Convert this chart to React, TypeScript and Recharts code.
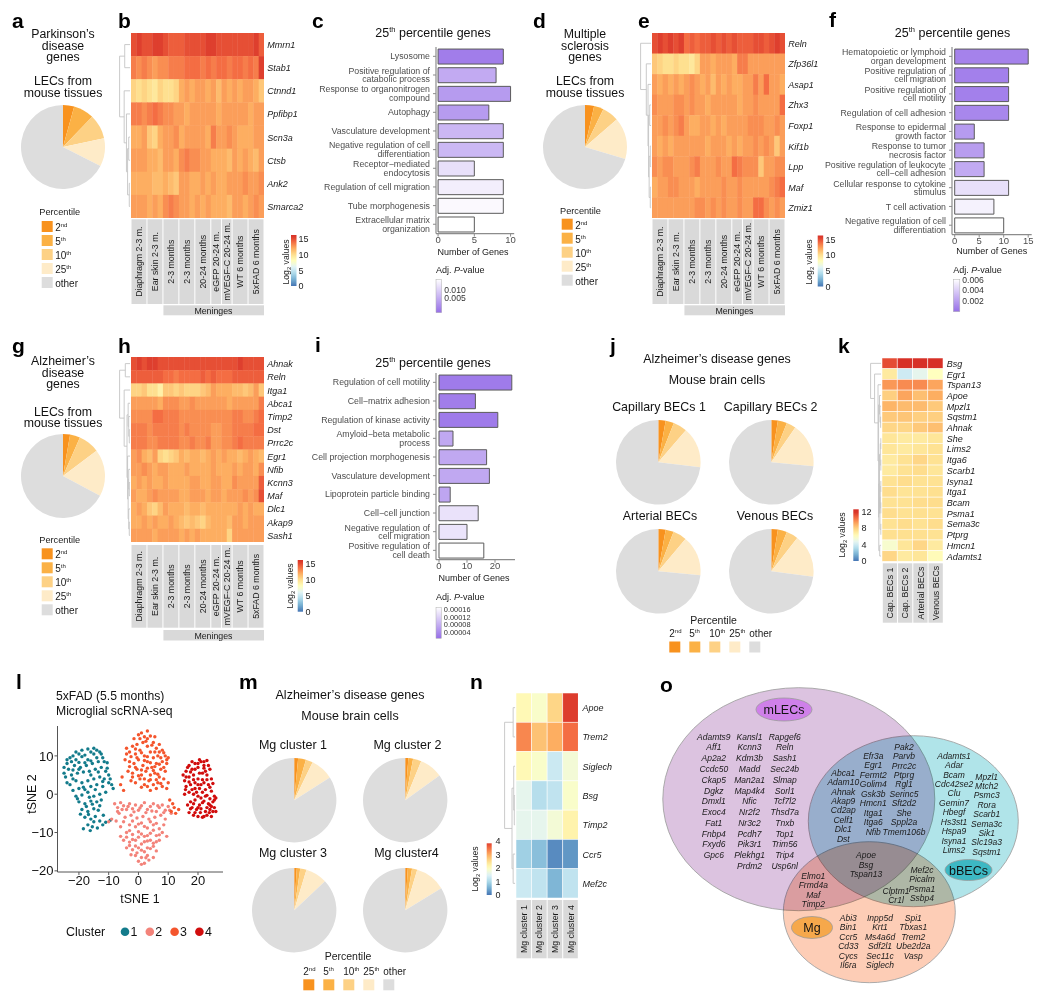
import React from 'react';
import { PieChart, Pie, Cell, BarChart, Bar, XAxis, YAxis, ScatterChart, Scatter, ReferenceLine } from 'recharts';

const FONT = "'Liberation Sans', Arial, Helvetica, sans-serif";

// ---------------- data: percentile pies ----------------
const PCT_LABELS = ['2nd', '5th', '10th', '25th', 'other'];
const PCT_COLORS = ['#f8921e', '#fbb145', '#fdd185', '#feebc8', '#dddddd'];
const PIE_A = [4.3, 7.9, 9.5, 10.8, 67.5];
const PIE_D = [3.5, 3.7, 6.4, 16.0, 70.4];
const PIE_G = [2.7, 3.9, 8.1, 18.1, 67.2];
const PIE_CAP1 = [2.8, 3.2, 5.3, 15.6, 73.1];
const PIE_CAP2 = [2.5, 3.5, 3.6, 16.9, 73.5];
const PIE_ART = [2.8, 3.1, 5.2, 15.4, 73.5];
const PIE_VEN = [2.5, 3.5, 4.5, 16.6, 72.9];
const PIE_MG1 = [1.5, 3.0, 2.7, 8.8, 84.0];
const PIE_MG2 = [1.2, 1.8, 3.2, 8.9, 84.9];
const PIE_MG3 = [1.0, 1.3, 2.4, 8.3, 87.0];
const PIE_MG4 = [1.0, 1.6, 2.0, 11.7, 83.7];

// ---------------- data: heatmaps ----------------
const GROUP_LABELS = ['Diaphragm 2-3 m.', 'Ear skin 2-3 m.', '2-3 months', '2-3 months', '20-24 months', 'eGFP 20-24 m.', 'mVEGF-C 20-24 m.', 'WT 6 months', '5xFAD 6 months'];
const GROUP_SIZES = [3, 3, 3, 3, 3, 2, 2, 3, 3];

const B_GENES = ['Mmrn1', 'Stab1', 'Ctnnd1', 'Ppfibp1', 'Scn3a', 'Ctsb', 'Ank2', 'Smarca2'];
const B_VALUES = [
  [15, 15.5, 15, 15, 15.5, 15.5, 15, 14.5, 14.5, 14.5, 15, 15, 15, 15, 15.5, 15.5, 15, 15, 15, 15, 15, 15, 15, 15.5, 14.5],
  [13.5, 13, 13.5, 13, 12.5, 13, 13, 13.5, 13.5, 13.5, 14, 14, 14, 13.5, 14, 13.5, 14, 14, 13.5, 14, 14, 13.5, 14, 13.5, 15.5],
  [10.5, 10, 10.5, 10, 9.5, 10.5, 10, 10, 10.5, 12, 12.5, 12, 12.5, 12.5, 12, 12.5, 11.5, 12.5, 12, 12.5, 12, 12.5, 12.5, 12, 11],
  [13.5, 13.5, 13, 13.5, 14, 13.5, 13, 13, 12.5, 12.5, 12, 12.5, 12.5, 12.5, 12.5, 12.5, 12, 12.5, 12.5, 12.5, 12.5, 12.5, 12, 12.5, 12.5],
  [12, 12, 12.5, 11, 10.5, 12, 12.5, 12.5, 13, 12, 12.5, 12.5, 12.5, 12.5, 12, 13.5, 12.5, 12.5, 13, 12.5, 12, 12, 12, 12.5, 12.5],
  [12.5, 12.5, 12.5, 12, 12, 11.5, 12.5, 12.5, 12, 13, 13.5, 13, 13, 12.5, 12.5, 12, 12, 12, 11.5, 12.5, 12, 12.5, 12, 11.5, 12.5],
  [12, 12, 12, 12, 11.5, 11.5, 12, 11.5, 11, 12.5, 12.5, 12, 12, 12.5, 12, 12.5, 12, 12, 12.5, 12.5, 12.5, 13, 12.5, 12.5, 13],
  [12.5, 12.5, 12.5, 12, 12.5, 12, 13, 13.5, 13, 12.5, 12.5, 12, 12.5, 12, 12.5, 12, 12, 12, 11.5, 12.5, 12.5, 12, 12.5, 13, 12.5],
];
const B_MERGES = [[0, 1, 0.55], [6, 7, 0.15], [4, 5, 0.2], [10, 9, 0.3], [3, 11, 0.4], [2, 12, 0.6], [8, 13, 1.0]];

const E_GENES = ['Reln', 'Zfp36l1', 'Asap1', 'Zhx3', 'Foxp1', 'Kif1b', 'Lpp', 'Maf', 'Zmiz1'];
const E_VALUES = [
  [15, 15.5, 15, 15.5, 15, 15.5, 14, 14.5, 14, 14.5, 14.5, 15, 14.5, 15, 14.5, 15, 14.5, 14.5, 14.5, 15, 15, 14.5, 15, 15.5, 15],
  [11, 10.5, 10, 10, 10.5, 10, 10, 9.5, 10.5, 12.5, 12.5, 12, 12.5, 12.5, 12.5, 12, 13.5, 13.5, 12.5, 12.5, 12.5, 12.5, 12.5, 12.5, 12.5],
  [12.5, 12, 12.5, 12, 12.5, 12, 12.5, 13, 12.5, 12, 12.5, 11.5, 12.5, 12, 12.5, 12, 12, 12.5, 12.5, 13.5, 12.5, 14, 12.5, 12.5, 12],
  [13, 12.5, 12.5, 12.5, 13, 13, 12.5, 13, 12.5, 12.5, 12, 12.5, 12.5, 12.5, 12.5, 12.5, 12, 12.5, 12.5, 13, 12.5, 12.5, 12.5, 12.5, 14],
  [12.5, 12.5, 13, 12.5, 13, 13.5, 12.5, 12, 12, 12.5, 12.5, 12, 12.5, 12, 12.5, 12.5, 12.5, 12.5, 13, 13, 13, 12.5, 12.5, 13, 12.5],
  [12.5, 12, 12.5, 12, 12.5, 12.5, 12.5, 12.5, 12.5, 12.5, 12, 12.5, 12.5, 12.5, 12, 12.5, 12, 12.5, 12.5, 13, 12.5, 13, 12.5, 11, 12.5],
  [13, 12.5, 13, 13, 12.5, 12.5, 12.5, 13, 13.5, 12.5, 12.5, 12.5, 13, 12.5, 12.5, 14, 13.5, 13, 13, 13, 11, 12.5, 12.5, 13, 13],
  [12, 12.5, 12.5, 13, 13, 12.5, 12.5, 12.5, 12, 12.5, 12.5, 12.5, 12.5, 13, 12.5, 12.5, 13, 12.5, 12.5, 12.5, 12.5, 12.5, 13, 13.5, 14],
  [12.5, 12.5, 12.5, 12.5, 12.5, 12.5, 12.5, 12.5, 13, 13, 12.5, 13, 12.5, 13, 12.5, 12.5, 13, 12.5, 12.5, 14, 14, 13, 12.5, 13, 12.5],
];
const E_MERGES = [[7, 8, 0.15], [5, 6, 0.15], [3, 4, 0.2], [10, 9, 0.25], [11, 12, 0.3], [2, 13, 0.35], [1, 14, 0.5], [0, 15, 1.0]];

const H_GENES = ['Ahnak', 'Reln', 'Itga1', 'Abca1', 'Timp2', 'Dst', 'Prrc2c', 'Egr1', 'Nfib', 'Kcnn3', 'Maf', 'Dlc1', 'Akap9', 'Sash1'];
const H_VALUES = [
  [15, 15.5, 15, 15.5, 15.5, 15, 15, 15, 15, 15, 15, 15, 15, 15, 15, 15, 15, 15, 15, 15, 15.5, 15, 15, 15, 15],
  [14.5, 14.5, 14.5, 14.5, 14.5, 14.5, 14, 14, 13.5, 14, 14, 14, 14, 14.5, 14, 14.5, 14, 14, 14, 14.5, 14.5, 14.5, 14.5, 14.5, 14.5],
  [10.5, 10.5, 11, 10, 10, 9, 11, 11, 10.5, 11, 10.5, 10.5, 10.5, 11, 11.5, 12.5, 12, 12, 12, 11.5, 11.5, 11, 11.5, 12.5, 11],
  [12.5, 12.5, 12.5, 12.5, 12.5, 12, 13, 13, 13, 12.5, 12.5, 13, 12.5, 12.5, 12.5, 12.5, 12.5, 12.5, 12, 12.5, 12.5, 12.5, 12.5, 12.5, 13.5],
  [13, 13, 13, 13, 14, 14, 13.5, 13.5, 13.5, 13, 13, 13, 13, 13, 13, 13, 13, 13, 13, 13.5, 13.5, 13, 13, 13.5, 14],
  [13.5, 13.5, 13.5, 13, 13.5, 13.5, 13.5, 13.5, 13.5, 13, 13.5, 13, 13, 13, 13, 12.5, 12.5, 13, 13, 13.5, 13.5, 13.5, 13.5, 14, 14],
  [13.5, 13.5, 13.5, 13, 13, 13.5, 13.5, 13.5, 13.5, 13, 13, 13.5, 13, 13, 13.5, 12.5, 12.5, 13, 13, 13.5, 14, 13.5, 13.5, 13.5, 13.5],
  [12.5, 13, 12, 11.5, 12.5, 10.5, 10, 10.5, 11, 12, 11.5, 12, 12, 11.5, 12, 12.5, 12, 12.5, 12, 12, 11.5, 12, 12.5, 12, 11.5],
  [12.5, 12.5, 13, 12.5, 12, 12.5, 12.5, 12, 12, 12, 12.5, 12, 12, 12, 12, 12.5, 12, 12, 12, 12.5, 12, 12.5, 12.5, 12, 13],
  [12, 12.5, 12, 12.5, 12, 12, 12.5, 12, 12, 12, 12, 12.5, 12.5, 12, 12, 12.5, 12.5, 12, 12, 13, 12.5, 12.5, 12.5, 12.5, 14.5],
  [12.5, 12, 12, 12.5, 13, 12.5, 12.5, 12.5, 12.5, 12, 12, 12.5, 12.5, 12.5, 12, 12.5, 12.5, 12, 12.5, 12.5, 12.5, 13, 12.5, 13, 15],
  [12, 12.5, 12, 11, 10.5, 11.5, 12.5, 12, 12, 12, 11.5, 12, 12, 11.5, 12, 12, 12, 12, 12, 12, 12.5, 12, 12.5, 12, 12],
  [12, 12, 12.5, 12, 12.5, 12, 12, 12.5, 12, 11.5, 11, 11.5, 11, 10.5, 11.5, 12, 12, 12, 11.5, 12.5, 12.5, 12, 12.5, 12.5, 12.5],
  [12.5, 12.5, 12.5, 12.5, 12, 12.5, 12.5, 12.5, 12.5, 12, 12.5, 12, 12.5, 12, 12, 12, 12, 12, 10.5, 12.5, 12.5, 12.5, 12.5, 12.5, 12.5],
];
const H_MERGES = [[0, 1, 0.5], [5, 6, 0.15], [4, 15, 0.2], [3, 16, 0.25], [9, 10, 0.15], [8, 18, 0.2], [12, 13, 0.15], [11, 20, 0.2], [19, 21, 0.25], [7, 22, 0.3], [17, 23, 0.35], [2, 24, 0.6], [14, 25, 1.0]];

const K_COLS = ['Cap. BECs 1', 'Cap. BECs 2', 'Arterial BECs', 'Venous BECs'];
const K_GENES = ['Bsg', 'Egr1', 'Tspan13', 'Apoe', 'Mpzl1', 'Sqstm1', 'Ahnak', 'She', 'Lims2', 'Itga6', 'Scarb1', 'Isyna1', 'Itga1', 'Bcam', 'Psma1', 'Sema3c', 'Ptprg', 'Hmcn1', 'Adamts1'];
const K_VALUES = [
  [11.3, 12, 12, 12], [7, 4, 4.8, 6], [9.5, 9.8, 9.8, 9.2], [8, 9.2, 8.5, 9.0], [8.8, 8.6, 8.6, 8.2],
  [8.2, 8.3, 8.0, 8.0], [7.8, 7.8, 8.2, 8.5], [7.2, 7.0, 7.0, 7.2], [7.2, 7.0, 7.2, 7.4], [7.0, 7.4, 7.8, 7.4],
  [7.0, 7.4, 7.6, 7.2], [7.4, 7.6, 7.4, 7.4], [7.6, 7.3, 7.4, 7.5], [7.4, 7.4, 7.6, 7.6], [7.6, 7.4, 7.5, 7.4],
  [7.4, 7.6, 7.4, 7.6], [7.5, 7.5, 7.5, 7.4], [5.6, 7.2, 7.8, 7.0], [7.8, 7.0, 7.2, 6.2],
];
const K_MERGES = [[7, 8, 0.1], [9, 10, 0.1], [19, 20, 0.15], [11, 12, 0.1], [13, 14, 0.1], [22, 23, 0.15], [15, 16, 0.1], [24, 25, 0.18], [21, 26, 0.22], [17, 18, 0.2], [27, 28, 0.28], [5, 6, 0.12], [4, 30, 0.18], [3, 31, 0.22], [32, 29, 0.3], [2, 33, 0.35], [1, 34, 0.65], [0, 35, 1.0]];

const N_COLS = ['Mg cluster 1', 'Mg cluster 2', 'Mg cluster 3', 'Mg cluster 4'];
const N_GENES = ['Apoe', 'Trem2', 'Siglech', 'Bsg', 'Timp2', 'Ccr5', 'Mef2c'];
const N_VALUES = [
  [2.1, 1.9, 2.6, 3.9], [3.3, 2.8, 3.0, 3.5], [2.1, 1.9, 1.3, 1.8], [1.6, 1.1, 1.2, 1.9],
  [1.6, 1.6, 1.8, 2.2], [0.9, 0.7, 0.2, 0.3], [1.3, 1.2, 0.6, 1.2],
];
const N_MERGES = [[0, 1, 0.25], [3, 4, 0.15], [2, 8, 0.2], [5, 6, 0.25], [9, 10, 0.35], [7, 11, 1.0]];

// ---------------- data: GO bar charts ----------------
const C_TERMS = ['Lysosome', 'Positive regulation of\ncatabolic process', 'Response to organonitrogen\ncompound', 'Autophagy', 'Vasculature development', 'Negative regulation of cell\ndifferentiation', 'Receptor\u2212mediated\nendocytosis', 'Regulation of cell migration', 'Tube morphogenesis', 'Extracellular matrix\norganization'];
const C_COUNTS = [9, 8, 10, 7, 9, 9, 5, 9, 9, 5];
const C_PADJ = [0.0017, 0.0055, 0.0042, 0.0042, 0.0065, 0.0066, 0.0099, 0.0111, 0.012, 0.0125];

const F_TERMS = ['Hematopoietic or lymphoid\norgan development', 'Positive regulation of\ncell migration', 'Positive regulation of\ncell motility', 'Regulation of cell adhesion', 'Response to epidermal\ngrowth factor', 'Response to tumor\nnecrosis factor', 'Positive regulation of leukocyte\ncell\u2212cell adhesion', 'Cellular response to cytokine\nstimulus', 'T cell activation', 'Negative regulation of cell\ndifferentiation'];
const F_COUNTS = [15, 11, 11, 11, 4, 6, 6, 11, 8, 10];
const F_PADJ = [0.0012, 0.0011, 0.0011, 0.0014, 0.0023, 0.0024, 0.003, 0.0054, 0.0062, 0.0068];

const I_TERMS = ['Regulation of cell motility', 'Cell\u2212matrix adhesion', 'Regulation of kinase activity', 'Amyloid\u2212beta metabolic\nprocess', 'Cell projection morphogenesis', 'Vasculature development', 'Lipoprotein particle binding', 'Cell\u2212cell junction', 'Negative regulation of\ncell migration', 'Positive regulation of\ncell death'];
const I_COUNTS = [26, 13, 21, 5, 17, 18, 4, 14, 10, 16];
const I_PADJ = [0.000026, 0.000028, 0.000026, 0.000082, 0.000082, 0.000082, 0.000078, 0.000154, 0.000156, 0.00019];

// ---------------- data: tSNE ----------------
const CLUSTER_COLORS = ['#137b8b', '#f3837a', '#f4552d', '#d10d0d'];
const TSNE_C1 = [[-24, 8], [-23, 9.5], [-22, 10], [-21, 9], [-20, 10.5], [-19, 9.8], [-18, 10.2], [-17, 9], [-16, 11], [-15, 10.5], [-14, 11.5], [-13, 11], [-12, 9.5], [-13.5, 8.5], [-15.5, 8], [-17.5, 7.5], [-19.5, 7], [-21.5, 7.5], [-23.5, 6.5], [-25, 5.5], [-24.5, 4.5], [-22.5, 5], [-20.5, 5.5], [-18.5, 5.8], [-16.5, 6], [-14.5, 6.5], [-12.5, 7], [-11, 6], [-10, 5], [-11.5, 4], [-13, 4.5], [-15, 4], [-17, 3.5], [-19, 3], [-21, 3.5], [-23, 2.5], [-22, 1], [-20, 1.5], [-18, 1.2], [-16, 2], [-14, 2.5], [-12, 2], [-10, 3], [-9, 2.5], [-8.5, 1.5], [-11, 0.5], [-13, 0], [-15, -0.5], [-17, 0.5], [-19, -0.2], [-21, -0.5], [-20, -2], [-18, -2.5], [-16, -1.8], [-14, -2], [-12.5, -1.5], [-19, -4], [-17, -4.5], [-15, -3.8], [-13.5, -4.2], [-18, -6], [-16, -6.5], [-14.5, -5.8], [-17, -8], [-15.5, -8.5], [-18.5, -9], [-13, -7], [-9.5, -6.8], [-11, -7.3], [-12, -8], [-22, 4], [-24, 3], [-20, 8.3], [-16, 8.7], [-10.5, 8.2], [-25, 7],
  [-24, 9], [-22.5, 8.5], [-21, 11], [-19, 11.5], [-17, 11.8], [-15, 12], [-12.5, 10.5], [-11.5, 8.5], [-14, 9.5], [-18, 8.2], [-20, 6.5], [-22, 6.3], [-16, 5], [-13.5, 5.8], [-10.5, 6.8], [-9.5, 4], [-12, 3.3], [-14.5, 1.2], [-16.5, -0.8], [-18.5, 1.8], [-20.5, -1.2], [-17.5, -3.2], [-15.5, -2.6], [-13, -3], [-19.5, -5.2], [-16.8, -5.3], [-15, -7.2], [-13.8, -8.8], [-16.2, -9.5], [-11.8, -5.5]];
const TSNE_C2 = [[-8, -2.5], [-7, -3.5], [-6, -2.2], [-5, -3], [-4, -4], [-3, -2.5], [-2, -3.8], [-1, -2.8], [0, -4.2], [1, -3], [2, -2.2], [3, -4], [4, -3.2], [5, -2.5], [6, -4.5], [7, -3.5], [8, -2.8], [9, -4.2], [10, -3.2], [11, -5], [-6.5, -5], [-4.5, -6], [-2.5, -5.5], [-0.5, -6.2], [1.5, -5.8], [3.5, -6.5], [5.5, -6], [7.5, -5.5], [9, -6.5], [-3, -8], [-1, -8.5], [1, -7.5], [3, -8.8], [5, -8], [7, -9], [-4, -10], [-2, -10.5], [0, -9.8], [2, -11], [4, -10.2], [6, -10.8], [8, -10], [-5, -12], [-3, -12.5], [-1, -12], [1, -13], [3, -12.2], [5, -12.8], [7, -12], [-4, -14], [-2, -14.5], [0, -14], [2, -15], [4, -14.2], [6, -14.8], [-1, -16], [1, -16.5], [3, -16], [5, -16.5], [0, -17.5], [2, -18], [3.5, -17.2], [-2.5, -15.8], [-6, -11], [-7.5, -7], [-9, -6.5], [-10, -7.2], [-6, -8.5], [8.5, -8], [9.5, -11],
  [-7, -4.5], [-5.5, -4], [-3.5, -3.2], [-1.5, -4.6], [0.5, -3.6], [2.5, -4.8], [4.5, -4.4], [6.5, -3], [8.5, -4.8], [10.5, -4.2], [-5, -7.2], [-2, -7], [0, -7.8], [2, -8.4], [4, -7.2], [6, -7.6], [-3, -9.5], [1, -10.4], [3, -10.8], [5, -9.4], [7, -10.6], [-4, -11.2], [-2, -11.8], [0, -11.2], [2, -12.4], [4, -12], [6, -12.4], [-3, -13.4], [-1, -13.5], [1, -14.6], [3, -14], [5, -13.6], [-0.5, -15.3], [2.5, -16.6], [1, -18.3]];
const TSNE_C3 = [[0, 15.5], [1, 16], [2, 15], [3, 14.5], [4, 15.2], [5, 13.5], [1.5, 13.5], [-0.5, 13], [3, 12.5], [6, 12], [7, 13], [8, 11.5], [9, 10], [10, 9.5], [-4, 12], [-3, 11], [-2, 12.5], [-1, 10.5], [0.5, 11.5], [2, 10], [4, 11], [5, 9.5], [6.5, 10], [8, 8.5], [9.5, 8], [-4.5, 9], [-3, 8.5], [-1.5, 8], [0, 9], [1.5, 7.5], [3, 8.5], [4.5, 7], [6, 8], [7.5, 6.5], [9, 6], [-3.5, 6], [-2, 5.5], [-0.5, 6.5], [1, 5], [2.5, 6], [4, 5], [5.5, 5.5], [7, 4.5], [8.5, 4], [-2.5, 3.5], [-1, 3], [0.5, 4], [2, 2.5], [3.5, 3.5], [5, 2.5], [6.5, 3], [8, 2], [4, 1], [6, 1.5], [-5.5, 4.5], [-6, 2.5], [-5, 1], [10.5, -1.5], [11.5, -2.5], [12, -3.5], [11, -4.5], [12.5, -5], [13.5, -4], [10, 3], [9.5, 1.5], [3, 16.5], [-1.5, 14.5], [5.5, 15], [7, 11],
  [0.5, 14.5], [2.5, 13.8], [4.5, 12.8], [-1, 11.8], [1, 10.8], [3, 9.8], [5.5, 11], [7.5, 9.5], [8.5, 10.8], [-2.5, 9.8], [-0.5, 9.5], [2, 8.8], [4, 8.2], [5.5, 7.2], [7, 7.8], [8.5, 7], [-3, 7.2], [-1, 7], [1, 6.3], [3, 6.8], [5, 6.2], [6.5, 5.2], [-2, 4.5], [0, 4.8], [2, 4], [4, 3.8], [6, 3.8], [7.5, 2.8], [1, 1.8], [3, 2], [-4, 10.5], [9.5, 9]];
const TSNE_C4 = [[15, 5], [16, 6], [17, 7.5], [18, 6.5], [19, 8], [20, 7], [21, 8.5], [22, 7.5], [23, 8.8], [15.5, 3.5], [17, 4.5], [18.5, 5], [20, 4], [21.5, 5.5], [23, 5], [24, 6.5], [16, 2], [17.5, 2.5], [19, 3], [20.5, 1.5], [22, 3], [23.5, 2.5], [24.5, 4], [17, 0.5], [18.5, 0], [20, -0.5], [21.5, 0.5], [23, -0.3], [24.5, 0.8], [25.5, -0.5], [17.5, -2], [19, -1.5], [20.5, -2.8], [22, -1.8], [23.5, -2.5], [25, -2], [26, -1], [18, -3.5], [19.5, -4], [21, -3.8], [22.5, -4.5], [24, -4], [25.5, -3.5], [18.5, -5.5], [20, -5.8], [21.5, -6], [23, -5.5], [24.5, -5.8], [17, -4.8], [16.5, -2.8], [19, 1.5], [22.5, 1.2], [21, 2.5], [18, 8.5], [20.5, 9], [22.5, 6], [16.5, 7], [15.5, 0], [26, -4.5], [24, -1.2],
  [16, 4.5], [17.5, 5.8], [19, 6.5], [20.5, 5.5], [22, 6.8], [23.5, 7.5], [15.8, 1.2], [17, 3.2], [18.5, 3.8], [20, 2.5], [21.5, 3.8], [23, 3.8], [24, 1.8], [25, 2.8], [18, 1.2], [19.5, 0.5], [21, -1], [22.5, -0.5], [24, -2.8], [25.5, -1.5], [18.5, -2.5], [20, -3.5], [21.5, -2.2], [23, -3.5], [24.5, -3.2], [19, -4.8], [20.8, -4.8], [22, -5.8], [23.8, -4.8], [25, -4.5], [17.5, -3.8], [20, 8], [22, 8.5]];

// ---------------- data: Venn gene sets ----------------
const VENN_MLEC_ONLY = ['Adamts9', 'Aff1', 'Ap2a2', 'Ccdc50', 'Ckap5', 'Dgkz', 'Dmxl1', 'Exoc4', 'Fat1', 'Fnbp4', 'Fxyd6', 'Gpc6', 'Kansl1', 'Kcnn3', 'Kdm3b', 'Madd', 'Man2a1', 'Map4k4', 'Nfic', 'Nr2f2', 'Nr3c2', 'Pcdh7', 'Pik3r1', 'Plekhg1', 'Prdm2', 'Rapgef6', 'Reln', 'Sash1', 'Sec24b', 'Slmap', 'Sorl1', 'Tcf7l2', 'Thsd7a', 'Tnxb', 'Top1', 'Trim56', 'Trip4', 'Usp6nl'];
const VENN_MLEC_BBEC = ['Abca1', 'Adam10', 'Ahnak', 'Akap9', 'Cd2ap', 'Celf1', 'Dlc1', 'Dst', 'Efr3a', 'Egr1', 'Fermt2', 'Golim4', 'Gsk3b', 'Hmcn1', 'Itga1', 'Itga6', 'Nfib', 'Pak2', 'Parvb', 'Prrc2c', 'Ptprg', 'Rgl1', 'Serinc5', 'Sft2d2', 'She', 'Sppl2a', 'Tmem106b'];
const VENN_BBEC_ONLY = ['Adamts1', 'Adar', 'Bcam', 'Cdc42se2', 'Clu', 'Gemin7', 'Hbegf', 'Hs3st1', 'Hspa9', 'Isyna1', 'Lims2', 'Mpzl1', 'Mtch2', 'Psmc3', 'Rora', 'Scarb1', 'Sema3c', 'Sik1', 'Slc19a3', 'Sqstm1'];
const VENN_ALL = ['Apoe', 'Bsg', 'Tspan13'];
const VENN_MLEC_MG = ['Elmo1', 'Frmd4a', 'Maf', 'Timp2'];
const VENN_BBEC_MG = ['Clptm1', 'Cr1l', 'Mef2c', 'Picalm', 'Psma1', 'Ssbp4'];
const VENN_MG_ONLY = ['Abi3', 'Bin1', 'Ccr5', 'Cd33', 'Cycs', 'Il6ra', 'Inpp5d', 'Krt1', 'Ms4a6d', 'Sdf2l1', 'Sec11c', 'Siglech', 'Spi1', 'Tbxas1', 'Trem2', 'Ube2d2a', 'Vasp'];

// ---------------- helpers ----------------
const RDYLBU = ['#4575b4', '#74add1', '#abd9e9', '#e0f3f8', '#ffffbf', '#fee090', '#fdae61', '#f46d43', '#d73027'];
function hexRgb(h: string) { return [parseInt(h.slice(1, 3), 16), parseInt(h.slice(3, 5), 16), parseInt(h.slice(5, 7), 16)]; }
function mix(a: string, b: string, f: number) {
  const A = hexRgb(a), B = hexRgb(b);
  return 'rgb(' + A.map((v, i) => Math.round(v + (B[i] - v) * f)).join(',') + ')';
}
function heatColor(v: number, vmax: number) {
  const t = Math.max(0, Math.min(1, v / vmax)) * (RDYLBU.length - 1);
  const i = Math.min(Math.floor(t), RDYLBU.length - 2);
  return mix(RDYLBU[i], RDYLBU[i + 1], t - i);
}
const PURPLE = '#966ee8';
function purple(p: number, pMin: number, pMax: number) {
  const t = Math.max(0, Math.min(1, (pMax - p) / (pMax - pMin)));
  return mix('#ffffff', PURPLE, t);
}
function dendroSegments(n: number, merges: number[][], dU: number) {
  const nodes: any[] = [];
  for (let i = 0; i < n; i++) nodes.push({ y: i + 0.5, x: -0.08 * dU });
  const segs: number[][] = [];
  merges.forEach(([a, b, h]) => {
    const A = nodes[a], B = nodes[b];
    const x = -h * dU * 0.95;
    segs.push([A.x, A.y, x, A.y]);
    segs.push([B.x, B.y, x, B.y]);
    segs.push([x, A.y, x, B.y]);
    nodes.push({ y: (A.y + B.y) / 2, x });
  });
  return segs;
}

function PiePanel({ cx, cy, r, values }: any) {
  const pad = 2;
  const data = values.map((v: number, i: number) => ({ name: PCT_LABELS[i], value: v }));
  return (
    <div style={{ position: 'absolute', left: cx - r - pad, top: cy - r - pad }}>
      <PieChart width={2 * r + 2 * pad} height={2 * r + 2 * pad} margin={{ top: 0, right: 0, bottom: 0, left: 0 }}>
        <Pie data={data} dataKey="value" cx={r + pad} cy={r + pad} innerRadius={0} outerRadius={r} startAngle={90} endAngle={-270} isAnimationActive={false} stroke="none">
          {data.map((_: any, i: number) => <Cell key={i} fill={PCT_COLORS[i]} stroke="none" />)}
        </Pie>
      </PieChart>
    </div>
  );
}

function Heatmap({ left, top, w, h, dendroW, values, merges, vmax, dividers = [], grid = false }: any) {
  const nrows = values.length, ncols = values[0].length;
  const colPx = w / ncols, rowPx = h / nrows;
  const dU = dendroW / colPx;
  const cells: any[] = [];
  values.forEach((row: number[], r: number) => row.forEach((v, c) => cells.push({ col: c + 0.5, row: r + 0.5, v })));
  const segs = dendroSegments(nrows, merges, dU);
  const ext = grid ? 0 : 0.4;
  const shape = (p: any) => (
    <rect x={p.cx - colPx / 2} y={p.cy - rowPx / 2} width={colPx + ext} height={rowPx + ext}
      fill={heatColor(p.payload.v, vmax)} stroke={grid ? '#ffffff' : 'none'} strokeOpacity={0.75} strokeWidth={grid ? 0.7 : 0} />
  );
  return (
    <div style={{ position: 'absolute', left: left - dendroW, top }}>
      <ScatterChart width={w + dendroW} height={h} margin={{ top: 0, right: 0, bottom: 0, left: 0 }}>
        <XAxis type="number" dataKey="col" domain={[-dU, ncols]} hide allowDataOverflow />
        <YAxis type="number" dataKey="row" domain={[0, nrows]} reversed hide allowDataOverflow />
        <Scatter data={cells} shape={shape} isAnimationActive={false} />
        {dividers.map((d: number) => <ReferenceLine key={'d' + d} x={d} stroke="#ffffff" strokeWidth={1.3} />)}
        {segs.map((s, i) => <ReferenceLine key={'s' + i} segment={[{ x: s[0], y: s[1] }, { x: s[2], y: s[3] }]} stroke="#c4c4c4" strokeWidth={0.9} />)}
      </ScatterChart>
    </div>
  );
}

function CatTick(props: any) {
  const { x, y, payload } = props;
  const lines = String(payload.value).split('\n');
  return (
    <text x={x} y={y} textAnchor="end" fontSize={8.8} fill="#4d4d4d" fontFamily={FONT}>
      {lines.map((l, i) => <tspan key={i} x={x} y={y + 3.1 + (i - (lines.length - 1) / 2) * 8.5}>{l}</tspan>)}
    </text>
  );
}

function BarPanel({ plotLeft, plotTop, plotW, plotH, domain, ticks, terms, counts, padj, pMin, pMax }: any) {
  const YW = 160, MT = 2, MR = 3, XH = 22;
  const data = terms.map((t: string, i: number) => ({ name: t, v: counts[i], p: padj[i] }));
  const axis = { stroke: '#8c8c8c', strokeWidth: 1.2 };
  return (
    <div style={{ position: 'absolute', left: plotLeft - YW, top: plotTop - MT }}>
      <BarChart layout="vertical" width={YW + plotW + MR} height={MT + plotH + XH} data={data}
        margin={{ top: MT, right: MR, bottom: 0, left: 0 }} barCategoryGap="11%">
        <XAxis type="number" dataKey="v" domain={domain} ticks={ticks} allowDataOverflow height={XH} interval={0}
          tickSize={3} tickMargin={0} axisLine={axis} tickLine={{ stroke: '#8c8c8c' }}
          tick={{ fontSize: 9.5, fill: '#4d4d4d', fontFamily: FONT }} />
        <YAxis type="category" dataKey="name" width={YW} interval={0} tickSize={3} tickMargin={3}
          axisLine={axis} tickLine={{ stroke: '#8c8c8c' }} tick={(p: any) => <CatTick {...p} />} />
        <Bar dataKey="v" stroke="#5a5a5a" strokeWidth={1} isAnimationActive={false}>
          {data.map((d: any, i: number) => <Cell key={i} fill={purple(d.p, pMin, pMax)} />)}
        </Bar>
      </BarChart>
    </div>
  );
}

// ---------------- overlay text helpers ----------------
function splitPct(s: string) {
  const m = s.match(/^(\d+)(\D+)$/);
  return m ? [m[1], m[2]] : [s, ''];
}
function SupText({ x, y, text, size, anchor = 'start', fill = '#1a1a1a' }: any) {
  const [b, s] = splitPct(text);
  return (
    <text x={x} y={y} fontSize={size} textAnchor={anchor} fill={fill}>
      {b}{s ? <tspan fontSize={size * 0.6} dy={-size * 0.42}>{s}</tspan> : null}
    </text>
  );
}
function Letter({ x, y, t }: any) {
  return <text x={x} y={y} fontSize={21} fontWeight="bold" fill="#000">{t}</text>;
}
function Lines({ x, ys, lines, size }: any) {
  return <>{lines.map((l: string, i: number) => <text key={i} x={x} y={ys[i]} fontSize={size} textAnchor="middle" fill="#111">{l}</text>)}</>;
}
function VertLegend({ tx, ty, sx, sy0 }: any) {
  return (
    <g>
      <text x={tx} y={ty} fontSize={9.2} fill="#1a1a1a">Percentile</text>
      {PCT_LABELS.map((l, i) => (
        <g key={l}>
          <rect x={sx} y={sy0 + i * 14} width={11} height={11} fill={PCT_COLORS[i]} />
          <SupText x={sx + 13.5} y={sy0 + i * 14 + 10} text={l} size={10} />
        </g>
      ))}
    </g>
  );
}
function HorizLegend({ cx, ty, ly, xs, sy }: any) {
  return (
    <g>
      <text x={cx} y={ty} fontSize={10.5} textAnchor="middle" fill="#1a1a1a">Percentile</text>
      {PCT_LABELS.map((l, i) => (
        <g key={l}>
          <SupText x={xs[i]} y={ly} text={l} size={10} />
          <rect x={xs[i]} y={sy} width={11} height={11} fill={PCT_COLORS[i]} />
        </g>
      ))}
    </g>
  );
}
function RowLabels({ x, top, h, genes, size = 9 }: any) {
  const rh = h / genes.length;
  return <>{genes.map((g: string, i: number) => <text key={g + i} x={x} y={top + (i + 0.5) * rh + 3.2} fontSize={size} fontStyle="italic" fill="#1a1a1a">{g}</text>)}</>;
}
function ColBoxes({ x0, colPx, sizes, labels, y0, y1 }: any) {
  let c = 0;
  return (
    <>
      {sizes.map((s: number, i: number) => {
        const xa = x0 + c * colPx + 0.5, wb = s * colPx - 1;
        c += s;
        const cx = xa + wb / 2;
        return (
          <g key={i}>
            <rect x={xa} y={y0} width={wb} height={y1 - y0} fill="#d9d9d9" />
            <text transform={`translate(${cx + 3.1},${(y0 + y1) / 2}) rotate(-90)`} textAnchor="middle" fontSize={8.8} fill="#1a1a1a">{labels[i]}</text>
          </g>
        );
      })}
    </>
  );
}
function Colorbar({ id, x, y, w, h, vtop, vmax, labels, lx, tx, tcy }: any) {
  const stops = [];
  for (let i = 0; i <= 16; i++) { const v = vtop * (1 - i / 16); stops.push({ o: i / 16, c: heatColor(v, vmax) }); }
  return (
    <g>
      <defs>
        <linearGradient id={id} x1="0" y1="0" x2="0" y2="1">
          {stops.map((s, i) => <stop key={i} offset={s.o} stopColor={s.c} />)}
        </linearGradient>
      </defs>
      <rect x={x} y={y} width={w} height={h} fill={`url(#${id})`} />
      {labels.map((v: number) => <text key={v} x={lx} y={y + h - (v / vtop) * h + 3.2} fontSize={9} fill="#222">{v}</text>)}
      <text transform={`translate(${tx},${tcy}) rotate(-90)`} textAnchor="middle" fontSize={8.6} fill="#222">Log<tspan fontSize={6} dy={2}>2</tspan><tspan dy={-2}> values</tspan></text>
    </g>
  );
}
function PLegend({ id, x, ty, ry, rw, rh, labels, size = 8.6 }: any) {
  return (
    <g>
      <defs>
        <linearGradient id={id} x1="0" y1="0" x2="0" y2="1">
          <stop offset="0" stopColor="#ffffff" />
          <stop offset="1" stopColor={PURPLE} />
        </linearGradient>
      </defs>
      <text x={x} y={ty} fontSize={9} fill="#1a1a1a">Adj. <tspan fontStyle="italic">P</tspan>-value</text>
      <rect x={x} y={ry} width={rw} height={rh} fill={`url(#${id})`} stroke="#b0b0b0" strokeWidth={0.5} />
      {labels.map((l: any) => <text key={l[0]} x={x + rw + 2.5} y={l[1]} fontSize={size} fill="#333">{l[0]}</text>)}
    </g>
  );
}
function Title25({ cx, y }: any) {
  return (
    <text x={cx} y={y} fontSize={12.5} textAnchor="middle" fill="#111">25<tspan fontSize={7.5} dy={-5}>th</tspan><tspan dy={5}> percentile genes</tspan></text>
  );
}

// ---------------- layout constants (not data) ----------------
const VENN_SHAPES = [
  { x: 798.8, y: 799.2, rx: 136, ry: 111.5, fill: '#dcc3e0' },
  { x: 913.3, y: 821.2, rx: 105, ry: 85.5, fill: '#b0e4e9' },
  { x: 869.3, y: 912.2, rx: 86, ry: 70.5, fill: '#fdcdb6' },
];
const VENN_PILLS = [
  { x: 784, y: 709.5, rx: 28, ry: 11.5, fill: '#cf80e9' },
  { x: 968.5, y: 870, rx: 23.5, ry: 10.5, fill: '#3db8c3' },
  { x: 812, y: 927.5, rx: 20.5, ry: 11, fill: '#f6a84b' },
];
const VENN_COLUMNS = [
  { set: VENN_MLEC_ONLY, from: 0, n: 12, x: 713.8, y0: 739.7, step: 10.76 },
  { set: VENN_MLEC_ONLY, from: 12, n: 13, x: 749.5, y0: 739.7, step: 10.76 },
  { set: VENN_MLEC_ONLY, from: 25, n: 13, x: 784.7, y0: 739.7, step: 10.76 },
  { set: VENN_MLEC_BBEC, from: 0, n: 8, x: 843.3, y0: 775.7, step: 9.43 },
  { set: VENN_MLEC_BBEC, from: 8, n: 9, x: 873.3, y0: 759, step: 9.46 },
  { set: VENN_MLEC_BBEC, from: 17, n: 10, x: 904, y0: 749.7, step: 9.44 },
  { set: VENN_BBEC_ONLY, from: 0, n: 11, x: 954, y0: 758.7, step: 9.43 },
  { set: VENN_BBEC_ONLY, from: 11, n: 9, x: 986.7, y0: 779.7, step: 9.38 },
  { set: VENN_ALL, from: 0, n: 3, x: 866, y0: 858, step: 9.5 },
  { set: VENN_MLEC_MG, from: 0, n: 4, x: 813.3, y0: 878.7, step: 9.43 },
  { set: VENN_BBEC_MG, from: 0, n: 2, x: 896, y0: 893.7, step: 9.3 },
  { set: VENN_BBEC_MG, from: 2, n: 4, x: 922, y0: 873, step: 9.43 },
  { set: VENN_MG_ONLY, from: 0, n: 6, x: 848.3, y0: 920.7, step: 9.47 },
  { set: VENN_MG_ONLY, from: 6, n: 6, x: 880, y0: 920.7, step: 9.47 },
  { set: VENN_MG_ONLY, from: 12, n: 5, x: 913.3, y0: 920.7, step: 9.47 },
];

const fmtMinus = (v: number) => String(v).replace('-', '\u2212');

function TsnePlot() {
  const sets = [TSNE_C1, TSNE_C2, TSNE_C3, TSNE_C4];
  const axis = { stroke: '#555', strokeWidth: 1 };
  return (
    <div style={{ position: 'absolute', left: 0, top: 716 }}>
      <ScatterChart width={225} height={180} margin={{ top: 10, right: 2, bottom: 0, left: 0 }}>
        <XAxis type="number" dataKey="x" domain={[-27.2, 28.4]} ticks={[-20, -10, 0, 10, 20]} allowDataOverflow interval={0}
          height={24} tickSize={3} tickMargin={1} axisLine={axis} tickLine={{ stroke: '#555' }}
          tick={{ fontSize: 13, fill: '#111', fontFamily: FONT }} tickFormatter={fmtMinus} />
        <YAxis type="number" dataKey="y" domain={[-20.3, 17.8]} ticks={[-20, -10, 0, 10]} allowDataOverflow interval={0}
          width={57.5} tickSize={3} tickMargin={1} axisLine={axis} tickLine={{ stroke: '#555' }}
          tick={{ fontSize: 13, fill: '#111', fontFamily: FONT }} tickFormatter={fmtMinus} />
        {sets.map((s, k) => (
          <Scatter key={k} data={s.map(p => ({ x: p[0], y: p[1] }))} isAnimationActive={false}
            shape={(p: any) => <circle cx={p.cx} cy={p.cy} r={1.7} fill={CLUSTER_COLORS[k]} />} />
        ))}
      </ScatterChart>
    </div>
  );
}

function VennPlot() {
  const shapeE = (p: any) => (
    <ellipse cx={p.cx} cy={p.cy} rx={p.payload.rx} ry={p.payload.ry} fill={p.payload.fill}
      stroke="#a3a3a3" strokeWidth={0.9} style={{ mixBlendMode: 'multiply' }} />
  );
  const shapeP = (p: any) => (
    <ellipse cx={p.cx} cy={p.cy} rx={p.payload.rx} ry={p.payload.ry} fill={p.payload.fill} stroke="#9a9a9a" strokeWidth={0.8} />
  );
  return (
    <div style={{ position: 'absolute', left: 655, top: 678 }}>
      <ScatterChart width={380} height={320} margin={{ top: 0, right: 0, bottom: 0, left: 0 }}>
        <XAxis type="number" dataKey="x" domain={[655, 1035]} hide allowDataOverflow />
        <YAxis type="number" dataKey="y" domain={[678, 998]} reversed hide allowDataOverflow />
        <Scatter data={VENN_SHAPES} shape={shapeE} isAnimationActive={false} />
        <Scatter data={VENN_PILLS} shape={shapeP} isAnimationActive={false} />
      </ScatterChart>
    </div>
  );
}

export default function App() {
  const colB = 133 / 25;
  return (
    <div style={{ position: 'absolute', left: 0, top: 0, width: 1050, height: 1004, background: '#fff', fontFamily: FONT }}>
      {/* pies */}
      <PiePanel cx={62.5} cy={146.8} r={42} values={PIE_A} />
      <PiePanel cx={584.8} cy={147.3} r={42} values={PIE_D} />
      <PiePanel cx={62.8} cy={475.8} r={42} values={PIE_G} />
      <PiePanel cx={658.5} cy={462.5} r={42.3} values={PIE_CAP1} />
      <PiePanel cx={771} cy={462.5} r={42.3} values={PIE_CAP2} />
      <PiePanel cx={658.5} cy={571.5} r={42.3} values={PIE_ART} />
      <PiePanel cx={771} cy={571.5} r={42.3} values={PIE_VEN} />
      <PiePanel cx={293.8} cy={800} r={42.2} values={PIE_MG1} />
      <PiePanel cx={405.5} cy={800} r={42.2} values={PIE_MG2} />
      <PiePanel cx={293.8} cy={909.8} r={42.2} values={PIE_MG3} />
      <PiePanel cx={405.5} cy={909.8} r={42.2} values={PIE_MG4} />

      {/* heatmaps */}
      <Heatmap left={131} top={33.3} w={133} h={185} dendroW={12} values={B_VALUES} merges={B_MERGES} vmax={16} dividers={[6, 9, 15, 19]} />
      <Heatmap left={652} top={33.3} w={133} h={185} dendroW={12} values={E_VALUES} merges={E_MERGES} vmax={16} dividers={[6, 9, 15, 19]} />
      <Heatmap left={131} top={357.3} w={133} h={185} dendroW={12} values={H_VALUES} merges={H_MERGES} vmax={16} dividers={[6, 9, 15, 19]} />
      <Heatmap left={882.3} top={358.3} w={61} h={203.4} dendroW={12} values={K_VALUES} merges={K_MERGES} vmax={12} grid />
      <Heatmap left={516} top={693.3} w={62.3} h={205} dendroW={12} values={N_VALUES} merges={N_MERGES} vmax={4} grid />

      {/* GO bars */}
      <BarPanel plotLeft={436} plotTop={46.7} plotW={78.2} plotH={186.6} domain={[-0.29, 10.5]} ticks={[0, 5, 10]}
        terms={C_TERMS} counts={C_COUNTS} padj={C_PADJ} pMin={0.0005} pMax={0.0125} />
      <BarPanel plotLeft={952} plotTop={46.7} plotW={79.7} plotH={187.6} domain={[-0.55, 15.71]} ticks={[0, 5, 10, 15]}
        terms={F_TERMS} counts={F_COUNTS} padj={F_PADJ} pMin={0.0003} pMax={0.0068} />
      <BarPanel plotLeft={436} plotTop={373.3} plotW={79} plotH={186.7} domain={[-1.07, 27.14]} ticks={[0, 10, 20]}
        terms={I_TERMS} counts={I_COUNTS} padj={I_PADJ} pMin={0.00001} pMax={0.00019} />

      <TsnePlot />
      <VennPlot />

      {/* overlay text & decorations */}
      <svg width={1050} height={1004} style={{ position: 'absolute', left: 0, top: 0, pointerEvents: 'none', fontFamily: FONT }}>
        <Letter x={12} y={28} t="a" />
        <Letter x={118} y={28} t="b" />
        <Letter x={312} y={28} t="c" />
        <Letter x={533} y={28} t="d" />
        <Letter x={638} y={28} t="e" />
        <Letter x={829} y={27} t="f" />
        <Letter x={12} y={353} t="g" />
        <Letter x={118} y={353} t="h" />
        <Letter x={315} y={352} t="i" />
        <Letter x={610} y={353} t="j" />
        <Letter x={838} y={353} t="k" />
        <Letter x={16} y={689} t="l" />
        <Letter x={239} y={689} t="m" />
        <Letter x={470} y={689} t="n" />
        <Letter x={660} y={692} t="o" />

        {/* a, d, g titles */}
        <Lines x={63} ys={[38, 49.5, 61, 85, 96.5]} lines={["Parkinson\u2019s", 'disease', 'genes', 'LECs from', 'mouse tissues']} size={12.3} />
        <Lines x={585} ys={[38, 49.5, 61, 85, 96.5]} lines={['Multiple', 'sclerosis', 'genes', 'LECs from', 'mouse tissues']} size={12.3} />
        <Lines x={63} ys={[365, 376.7, 388.2, 416, 427.3]} lines={["Alzheimer\u2019s", 'disease', 'genes', 'LECs from', 'mouse tissues']} size={12.3} />
        <VertLegend tx={39.3} ty={215} sx={41.7} sy0={221} />
        <VertLegend tx={560} ty={214} sx={561.7} sy0={218.7} />
        <VertLegend tx={39.3} ty={543} sx={41.7} sy0={548.3} />

        {/* heatmap labels */}
        <RowLabels x={267.3} top={33.3} h={185} genes={B_GENES} />
        <RowLabels x={788.3} top={33.3} h={185} genes={E_GENES} />
        <RowLabels x={267.3} top={357.3} h={185} genes={H_GENES} />
        <RowLabels x={946.7} top={358.3} h={203.4} genes={K_GENES} />
        <RowLabels x={582.5} top={693.3} h={205} genes={N_GENES} />

        <ColBoxes x0={131} colPx={colB} sizes={GROUP_SIZES} labels={GROUP_LABELS} y0={219.3} y1={304} />
        <rect x={131 + 6 * colB + 0.5} y={305.3} width={19 * colB - 0.5} height={10} fill="#d9d9d9" />
        <text x={131 + 15.5 * colB} y={313.6} fontSize={8.8} textAnchor="middle" fill="#1a1a1a">Meninges</text>
        <ColBoxes x0={652} colPx={colB} sizes={GROUP_SIZES} labels={GROUP_LABELS} y0={219.3} y1={304} />
        <rect x={652 + 6 * colB + 0.5} y={305.3} width={19 * colB - 0.5} height={10} fill="#d9d9d9" />
        <text x={652 + 15.5 * colB} y={313.6} fontSize={8.8} textAnchor="middle" fill="#1a1a1a">Meninges</text>
        <ColBoxes x0={131} colPx={colB} sizes={GROUP_SIZES} labels={GROUP_LABELS} y0={545} y1={627.7} />
        <rect x={131 + 6 * colB + 0.5} y={630} width={19 * colB - 0.5} height={10.5} fill="#d9d9d9" />
        <text x={131 + 15.5 * colB} y={638.5} fontSize={8.8} textAnchor="middle" fill="#1a1a1a">Meninges</text>
        <ColBoxes x0={882.3} colPx={61 / 4} sizes={[1, 1, 1, 1]} labels={K_COLS} y0={563.3} y1={622.7} />
        <ColBoxes x0={516} colPx={62.3 / 4} sizes={[1, 1, 1, 1]} labels={N_COLS} y0={900} y1={958.3} />

        <Colorbar id="cbB" x={291} y={235} w={5.5} h={51} vtop={16.3} vmax={16} labels={[15, 10, 5, 0]} lx={298.5} tx={289.3} tcy={262} />
        <Colorbar id="cbE" x={817.7} y={235.5} w={5.5} h={51} vtop={16.3} vmax={16} labels={[15, 10, 5, 0]} lx={825.5} tx={811.5} tcy={262} />
        <Colorbar id="cbH" x={297.7} y={560} w={5.3} h={51.7} vtop={16.3} vmax={16} labels={[15, 10, 5, 0]} lx={305.5} tx={292.5} tcy={586} />
        <Colorbar id="cbK" x={853.3} y={509.3} w={5.4} h={51.7} vtop={12.6} vmax={12} labels={[12, 8, 4, 0]} lx={861.5} tx={845} tcy={535} />
        <Colorbar id="cbN" x={486.7} y={843.3} w={5} h={51.7} vtop={3.85} vmax={4} labels={[4, 3, 2, 1, 0]} lx={495.5} tx={478} tcy={869} />

        {/* GO titles & legends */}
        <Title25 cx={433} y={36.5} />
        <Title25 cx={952.5} y={36.5} />
        <Title25 cx={433} y={366.5} />
        <text x={473} y={255} fontSize={9} textAnchor="middle" fill="#1a1a1a">Number of Genes</text>
        <text x={991.7} y={253.5} fontSize={9} textAnchor="middle" fill="#1a1a1a">Number of Genes</text>
        <text x={474} y={580.7} fontSize={9} textAnchor="middle" fill="#1a1a1a">Number of Genes</text>
        <PLegend id="plC" x={436} ty={273} ry={279.3} rw={5.7} rh={33.4} labels={[['0.010', 292.5], ['0.005', 301]]} />
        <PLegend id="plF" x={953.3} ty={272.5} ry={279.3} rw={6.5} rh={32.4} labels={[['0.006', 283.3], ['0.004', 293.3], ['0.002', 303.7]]} />
        <PLegend id="plI" x={436} ty={600} ry={607.3} rw={5.3} rh={31} size={7.4} labels={[['0.00016', 612.3], ['0.00012', 619.7], ['0.00008', 627], ['0.00004', 634.7]]} />

        {/* j */}
        <text x={717} y={363.3} fontSize={12.4} textAnchor="middle" fill="#111">Alzheimer{'\u2019'}s disease genes</text>
        <text x={717} y={384} fontSize={12.4} textAnchor="middle" fill="#111">Mouse brain cells</text>
        <text x={659} y={410.7} fontSize={12.4} textAnchor="middle" fill="#111">Capillary BECs 1</text>
        <text x={770.7} y={410.7} fontSize={12.4} textAnchor="middle" fill="#111">Capillary BECs 2</text>
        <text x={660} y={520} fontSize={12.4} textAnchor="middle" fill="#111">Arterial BECs</text>
        <text x={775} y={520} fontSize={12.4} textAnchor="middle" fill="#111">Venous BECs</text>
        <HorizLegend cx={713.5} ty={624} ly={637.3} xs={[669.3, 689.3, 709.3, 729.3, 749.3]} sy={641.5} />

        {/* l */}
        <text x={56} y={700} fontSize={12.2} fill="#111">5xFAD (5.5 months)</text>
        <text x={56} y={714.5} fontSize={12.2} fill="#111">Microglial scRNA-seq</text>
        <text x={140} y={903.3} fontSize={12.4} textAnchor="middle" fill="#111">tSNE 1</text>
        <text transform="translate(36,794) rotate(-90)" fontSize={12.4} textAnchor="middle" fill="#111">tSNE 2</text>
        <text x={66} y={936} fontSize={12.4} fill="#111">Cluster</text>
        {CLUSTER_COLORS.map((c, i) => (
          <g key={c}>
            <circle cx={125 + i * 24.8} cy={931.7} r={4.3} fill={c} />
            <text x={130.5 + i * 24.8} y={936} fontSize={12.4} fill="#111">{i + 1}</text>
          </g>
        ))}

        {/* m */}
        <text x={350} y={699.3} fontSize={12.5} textAnchor="middle" fill="#111">Alzheimer{'\u2019'}s disease genes</text>
        <text x={350} y={720} fontSize={12.5} textAnchor="middle" fill="#111">Mouse brain cells</text>
        <text x={293} y={749} fontSize={12.5} textAnchor="middle" fill="#111">Mg cluster 1</text>
        <text x={407.5} y={749} fontSize={12.5} textAnchor="middle" fill="#111">Mg cluster 2</text>
        <text x={293} y={857.3} fontSize={12.5} textAnchor="middle" fill="#111">Mg cluster 3</text>
        <text x={406.5} y={857.3} fontSize={12.5} textAnchor="middle" fill="#111">Mg cluster4</text>
        <HorizLegend cx={348} ty={960} ly={975} xs={[303.3, 323.3, 343.3, 363.3, 383.3]} sy={979.3} />

        {/* o: Venn labels */}
        <text x={784} y={714} fontSize={12.5} textAnchor="middle" fill="#111">mLECs</text>
        <text x={968.5} y={874.5} fontSize={12.5} textAnchor="middle" fill="#111">bBECs</text>
        <text x={812} y={932} fontSize={12.5} textAnchor="middle" fill="#111">Mg</text>
        {VENN_COLUMNS.map((col, k) => col.set.slice(col.from, col.from + col.n).map((g, i) => (
          <text key={k + '-' + g} x={col.x} y={col.y0 + i * col.step} fontSize={8.5} fontStyle="italic" textAnchor="middle" fill="#1a1a1a">{g}</text>
        )))}
      </svg>
    </div>
  );
}
